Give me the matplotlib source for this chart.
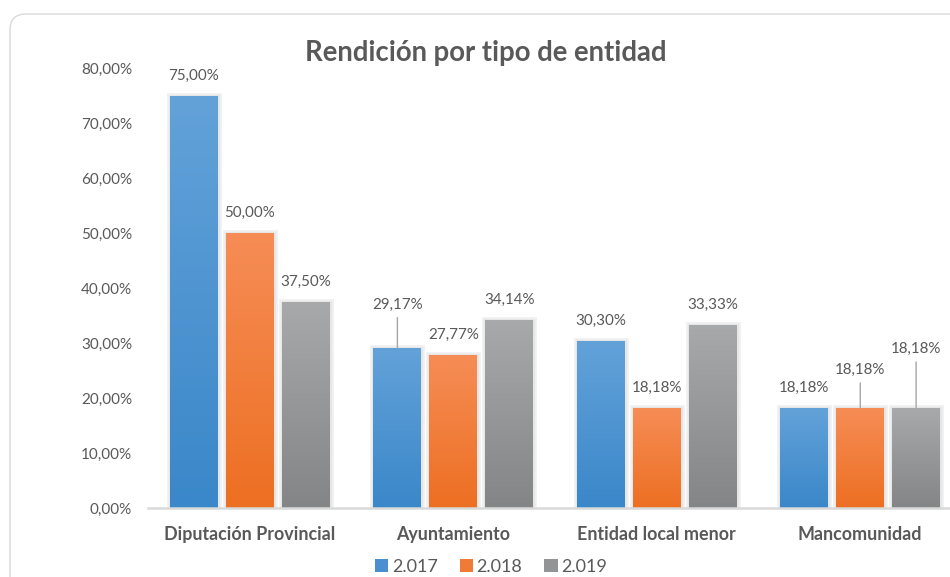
import matplotlib
matplotlib.use("Agg")
import matplotlib.pyplot as plt
import numpy as np
from matplotlib.colors import LinearSegmentedColormap
from matplotlib.patches import FancyBboxPatch, Patch
import matplotlib.patheffects as pe

plt.rcParams['font.family'] = ['Lato', 'DejaVu Sans']

# ---- data ----
title = "Rendición por tipo de entidad"
categories = ["Diputación Provincial", "Ayuntamiento", "Entidad local menor", "Mancomunidad"]
series_names = ["2.017", "2.018", "2.019"]
v2017 = [75.00, 29.17, 30.30, 18.18]
v2018 = [50.00, 27.77, 18.18, 18.18]
v2019 = [37.50, 34.14, 33.33, 18.18]
yticks = [0, 10, 20, 30, 40, 50, 60, 70, 80]

# ---- style ----
grad_colors = [("#3a87c9", "#63a2d9"), ("#ed6f22", "#f68d56"), ("#838586", "#a7a9aa")]
legend_colors = ["#4a90d0", "#f07a36", "#929495"]
text_color = "#595959"
# extra raise (in pixels) for labels that carry a leader line: (category, series) -> px
leader_raise = {(1, 0): 23, (3, 1): 18, (3, 2): 39}

W, H, DPI = 950, 577, 100
fig = plt.figure(figsize=(W / DPI, H / DPI), dpi=DPI)
fig.patch.set_facecolor("white")

# chart border (rounded, partly cut off at right/bottom)
border = FancyBboxPatch((0.10, -0.6), 10.5, 5.63 + 0.6,
                        boxstyle="round,pad=0,rounding_size=0.16",
                        transform=fig.dpi_scale_trans, facecolor="white",
                        edgecolor="#d9d9d9", linewidth=1.0, clip_on=False, zorder=0)
fig.add_artist(border)

ax = fig.add_axes([148 / W, 1 - 508 / H, (962 - 148) / W, (508 - 68) / H])
ax.set_facecolor("none")

x = np.arange(len(categories))
step = 0.2745
width = 0.235
all_vals = [v2017, v2018, v2019]

for si, vals in enumerate(all_vals):
    bars = ax.bar(x + (si - 1) * step, vals, width=width, color=legend_colors[si],
                  zorder=2, linewidth=0)
    cmap = LinearSegmentedColormap.from_list("g%d" % si, list(grad_colors[si]))
    grad = np.linspace(0, 1, 256).reshape(-1, 1)
    for ci, p in enumerate(bars.patches):
        p.set_path_effects([pe.withStroke(linewidth=5, foreground="#f2f2f2"),
                            pe.withStroke(linewidth=2.5, foreground="#e6e6e6")])
        bx, by, bw, bh = p.get_x(), p.get_y(), p.get_width(), p.get_height()
        im = ax.imshow(grad, extent=[bx, bx + bw, by, by + bh], origin="lower",
                       cmap=cmap, aspect="auto", zorder=3, interpolation="bilinear")
        im.set_clip_path(p)
        cx = bx + bw / 2
        val = vals[ci]
        label = f"{val:.2f}".replace(".", ",") + "%"
        extra = leader_raise.get((ci, si), 0)
        off_pt = (20 + extra) * 72 / DPI
        ax.annotate(label, (cx, val), xytext=(0, off_pt), textcoords="offset points",
                    ha="center", va="center", fontsize=10.9, color=text_color, zorder=5)
        if extra:
            ax.annotate("", (cx, val), xytext=(0, off_pt - 13 * 72 / DPI),
                        textcoords="offset points",
                        arrowprops=dict(arrowstyle="-", color="#a6a6a6", lw=1.0,
                                        shrinkA=0, shrinkB=0), zorder=4)

ax.set_xlim(-0.5, len(categories) - 0.5)
ax.set_ylim(0, 80)
ax.set_yticks(yticks)
ax.set_yticklabels([f"{t:.2f}".replace(".", ",") + "%" for t in yticks])
ax.set_xticks(x)
ax.set_xticklabels(categories, fontweight="bold", fontsize=12.9, color=text_color)
ax.tick_params(axis="y", length=0, pad=11.5, labelsize=11, labelcolor=text_color)
ax.tick_params(axis="x", length=0, pad=12.8)
for s in ["left", "right", "top"]:
    ax.spines[s].set_visible(False)
ax.spines["bottom"].set_color("#d9d9d9")
ax.spines["bottom"].set_linewidth(1.8)
ax.spines["bottom"].set_zorder(6)

fig.text(486 / W, 1 - 53 / H, title, ha="center", va="center", fontsize=19.8,
         fontweight="bold", color=text_color)

handles = [Patch(facecolor=c, edgecolor="none") for c in legend_colors]
fig.legend(handles, series_names, loc="center", bbox_to_anchor=(491 / W, 1 - 567 / H),
           ncol=3, frameon=False, fontsize=13, labelcolor=text_color,
           handlelength=0.75, handleheight=0.75, handletextpad=0.2, columnspacing=1.2)

fig.savefig("out.png", dpi=DPI)
